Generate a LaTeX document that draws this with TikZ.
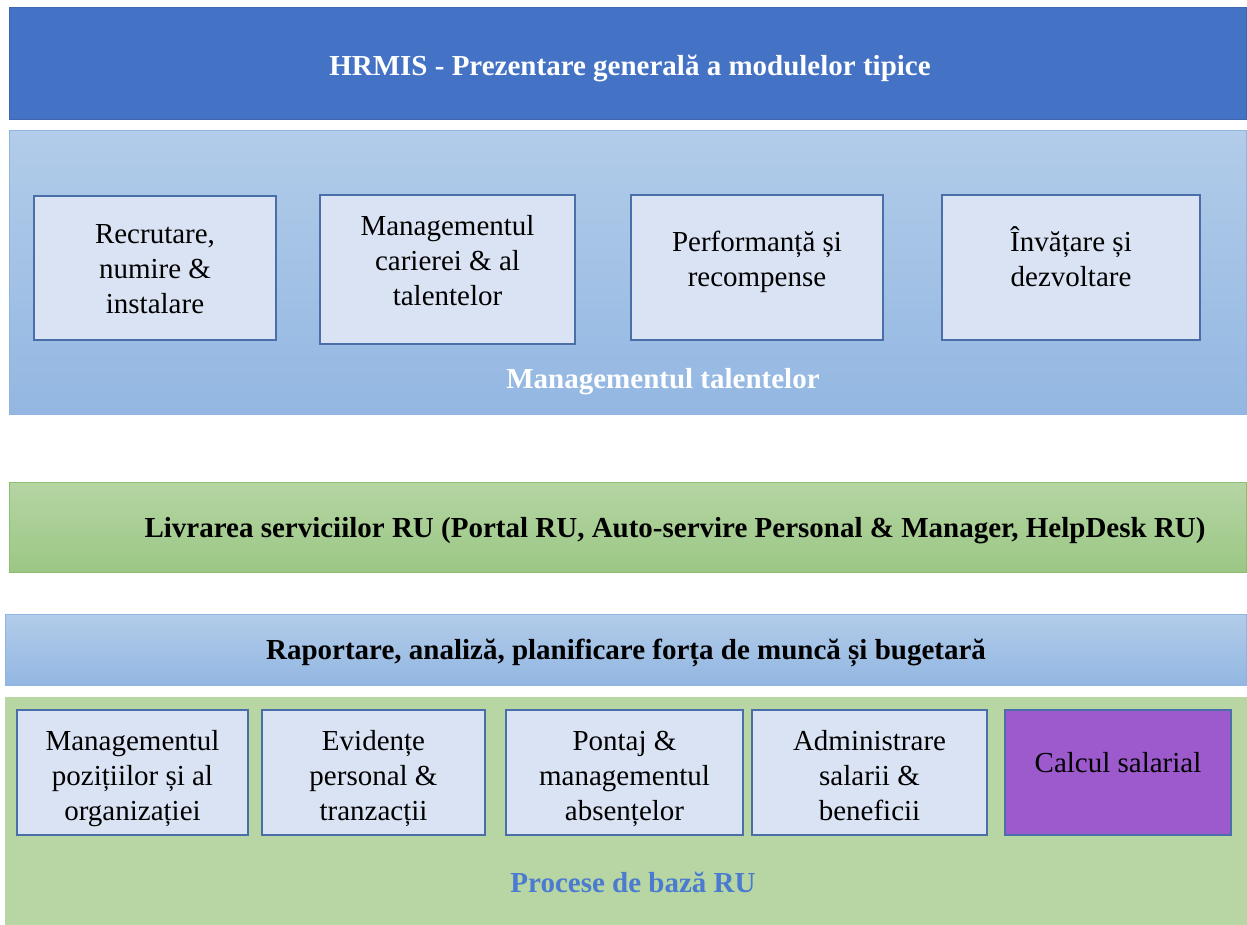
\documentclass[tikz,border=0pt]{standalone}
\usepackage{fontspec}
\setmainfont{Liberation Serif}
\definecolor{hdr}{HTML}{4472C4}
\definecolor{hdrline}{HTML}{3F66AE}
\definecolor{lbtop}{HTML}{B2CCE9}
\definecolor{lbbot}{HTML}{93B7E2}
\definecolor{lbline}{HTML}{8FB5E0}
\definecolor{gtop}{HTML}{B5D5A3}
\definecolor{gbot}{HTML}{9BC785}
\definecolor{gline}{HTML}{8CBF70}
\definecolor{gfill}{HTML}{B8D6A3}
\definecolor{boxfill}{HTML}{DAE3F3}
\definecolor{boxline}{HTML}{4A6EA8}
\definecolor{purp}{HTML}{9C5ACD}
\definecolor{proc}{HTML}{4A7BD0}
\tikzset{
  panel/.style={anchor=north west, inner sep=0pt, outer sep=0pt},
  modbox/.style={panel, draw=boxline, line width=1.3pt, fill=boxfill},
  txt/.style={align=center, font=\fontsize{29}{35}\selectfont, inner sep=0pt},
  btxt/.style={align=center, font=\fontsize{29}{35}\selectfont\bfseries, inner sep=0pt},
}
\begin{document}
\begin{tikzpicture}[x=1pt,y=-1pt]
\useasboundingbox (0,0) rectangle (1247,925);
% header
\node[panel, fill=hdr, draw=hdrline, line width=1pt, minimum width=1237pt, minimum height=112pt] (hdr) at (9,8) {};
\node[btxt, text=white] (hdrt) at (630,68) {HRMIS - Prezentare generală a modulelor tipice};
% talent management container
\node[panel, top color=lbtop, bottom color=lbbot, draw=lbline, line width=1pt, minimum width=1237pt, minimum height=283pt] (tal) at (9,131) {};
\node[modbox, minimum width=242pt, minimum height=144pt] (t1) at (34,196) {};
\node[modbox, minimum width=255pt, minimum height=149pt] (t2) at (320,195) {};
\node[modbox, minimum width=252pt, minimum height=145pt] (t3) at (631,195) {};
\node[modbox, minimum width=258pt, minimum height=145pt] (t4) at (942,195) {};
\node[txt] (t1t) at (155,269) {Recrutare,\\numire \&\\instalare};
\node[txt] (t2t) at (447.5,261) {Managementul\\carierei \& al\\talentelor};
\node[txt] (t3t) at (757,262) {Performanță și\\recompense};
\node[txt] (t4t) at (1071,257) {Învățare și\\dezvoltare};
\node[btxt, text=white] (talt) at (663,382) {Managementul talentelor};
% service delivery bar
\node[panel, top color=gtop, bottom color=gbot, draw=gline, line width=1pt, minimum width=1237pt, minimum height=90pt] (svc) at (9,482) {};
\node[btxt] (svct) at (675,531) {Livrarea serviciilor RU (Portal RU, Auto-servire Personal \& Manager, HelpDesk RU)};
% reporting bar
\node[panel, top color=lbtop, bottom color=lbbot, draw=lbline, line width=1pt, minimum width=1241pt, minimum height=71pt] (rep) at (5,614) {};
\node[btxt] (rept) at (626,653) {Raportare, analiză, planificare forța de muncă și bugetară};
% core processes container
\node[panel, fill=gfill, minimum width=1242pt, minimum height=228pt] (core) at (5,697) {};
\node[modbox, minimum width=231pt, minimum height=125pt] (c1) at (17,710) {};
\node[modbox, minimum width=223pt, minimum height=125pt] (c2) at (262,710) {};
\node[modbox, minimum width=237pt, minimum height=125pt] (c3) at (506,710) {};
\node[modbox, minimum width=235pt, minimum height=125pt] (c4) at (752,710) {};
\node[modbox, fill=purp, minimum width=226pt, minimum height=125pt] (c5) at (1005,710) {};
\node[txt] (c1t) at (132.5,779) {Managementul\\pozițiilor și al\\organizației};
\node[txt] (c2t) at (373.5,779) {Evidențe\\personal \&\\tranzacții};
\node[txt] (c3t) at (624.5,779) {Pontaj \&\\managementul\\absențelor};
\node[txt] (c4t) at (869.5,776) {Administrare\\salarii \&\\beneficii};
\node[txt] (c5t) at (1118,763) {Calcul salarial};
\node[btxt, text=proc] (coret) at (633,882) {Procese de bază RU};
\end{tikzpicture}
\end{document}
